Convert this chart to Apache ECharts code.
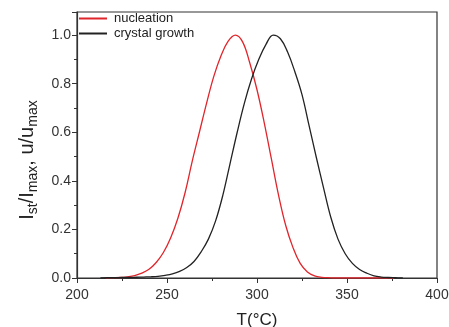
<!DOCTYPE html>
<html><head><meta charset="utf-8">
<script src="https://cdn.jsdelivr.net/npm/echarts@6/dist/echarts.min.js"></script>
<style>html,body{margin:0;padding:0;background:#fff}#c{width:449px;height:327px}</style>
</head><body><div id="c"></div>
<script>
const nucT = [216,220,224,228,232,236,240,244,248,252,256,260,264,268,272,276,280,284,288,292,296,300,304,308,312,316,320,324,328,332,336,340,344,348,352,356,360,364,368,372,376];
const nucV = [0,0.001,0.002,0.005,0.01,0.02,0.036,0.064,0.105,0.165,0.245,0.35,0.48,0.6,0.72,0.83,0.915,0.975,1.0,0.972,0.885,0.775,0.64,0.49,0.34,0.215,0.125,0.06,0.025,0.009,0.003,0.001,0,0,0,0,0,0,0,0,0];
const groT = [213,217,221,225,229,233,237,241,245,249,253,257,261,265,269,273,277,281,285,289,293,297,301,305,309,313,317,321,325,329,333,337,341,345,349,353,357,361,365,369,373,377,381];
const groV = [0,0.001,0.001,0.002,0.002,0.003,0.004,0.005,0.007,0.011,0.017,0.027,0.043,0.068,0.108,0.16,0.235,0.34,0.47,0.6,0.72,0.82,0.9,0.962,1.0,0.985,0.93,0.85,0.755,0.625,0.495,0.37,0.25,0.16,0.1,0.06,0.035,0.02,0.009,0.004,0.002,0.001,0];
const xTicks = [200,250,300,350,400];
const yTicks = [0.0,0.2,0.4,0.6,0.8,1.0];
const seriesNames = ['nucleation','crystal growth'];

const chart = echarts.init(document.getElementById('c'), null, {renderer:'canvas'});
const axisCol = '#333';
const ff = 'Liberation Sans, Arial';
chart.setOption({
  animation:false,
  backgroundColor:'#fff',
  grid:{left:77,right:12,top:12,bottom:49,show:true,borderColor:axisCol,borderWidth:1.2,
    containLabel:false,outerBoundsMode:'none'},
  legend:{
    orient:'vertical', left:78, top:12, padding:0, itemWidth:28, itemHeight:14, itemGap:2,
    itemStyle:{opacity:0},
    textStyle:{fontFamily:ff,fontSize:13,color:'#222',padding:[0,0,0,2]},
    data:seriesNames
  },
  xAxis:{
    type:'value', min:xTicks[0], max:xTicks[xTicks.length-1], interval:50,
    name:'T(°C)', nameLocation:'middle', nameGap:34,
    nameTextStyle:{fontFamily:ff,fontSize:17,color:'#222'},
    axisLine:{lineStyle:{color:axisCol,width:1.2}},
    axisTick:{inside:false,length:5,lineStyle:{color:axisCol}},
    minorTick:{show:true,splitNumber:2,length:3,lineStyle:{color:axisCol}},
    splitLine:{show:false},
    axisLabel:{fontFamily:ff,fontSize:14,color:'#333',margin:10}
  },
  yAxis:{
    type:'value', min:0, max:1.095, interval:0.2,
    name:'{a|I}{s|st}{a|/I}{s|max}{a|, u/u}{s|max}', nameLocation:'middle', nameGap:34,
    nameTextStyle:{
      padding:[0,30,0,0],
      rich:{
        a:{fontFamily:ff,fontSize:20,color:'#222',lineHeight:26,verticalAlign:'middle'},
        s:{fontFamily:ff,fontSize:14,color:'#222',lineHeight:26,verticalAlign:'bottom',padding:[10,0,0,0]}
      }
    },
    axisLine:{lineStyle:{color:axisCol,width:1.2}},
    axisTick:{inside:false,length:5,lineStyle:{color:axisCol}},
    minorTick:{show:true,splitNumber:2,length:3,lineStyle:{color:axisCol}},
    splitLine:{show:false},
    axisLabel:{fontFamily:ff,fontSize:14,color:'#333',margin:6,showMaxLabel:false,
      formatter:v=>v.toFixed(1)}
  },
  series:[
    {name:seriesNames[0],type:'line',symbol:'none',smooth:0.4,
      lineStyle:{color:'#e0252b',width:1.3},itemStyle:{color:'#e0252b'},
      data:nucT.map((t,i)=>[t,nucV[i]])},
    {name:seriesNames[1],type:'line',symbol:'none',smooth:0.4,
      lineStyle:{color:'#222',width:1.3},itemStyle:{color:'#222'},
      data:groT.map((t,i)=>[t,groV[i]])}
  ]
});
</script></body></html>
